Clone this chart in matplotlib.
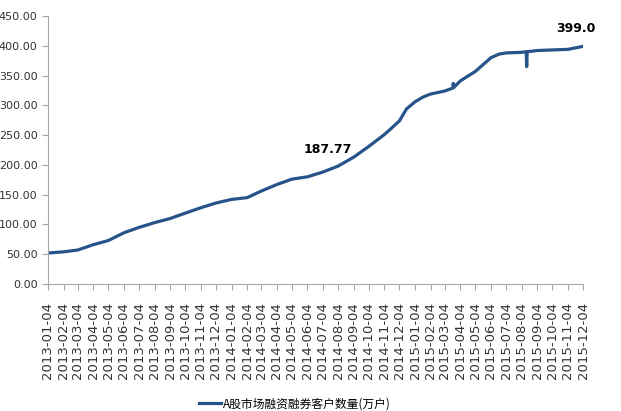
import pandas as pd
import matplotlib.pyplot as plt

plt.rcParams['font.family'] = ['DejaVu Sans', 'Noto Sans CJK SC']

# Month-start readings (万户)
dates = ['2013-01-04', '2013-02-04', '2013-03-04', '2013-04-04', '2013-05-04', '2013-06-04',
         '2013-07-04', '2013-08-04', '2013-09-04', '2013-10-04', '2013-11-04', '2013-12-04',
         '2014-01-04', '2014-02-04', '2014-03-04', '2014-04-04', '2014-05-04', '2014-06-04',
         '2014-07-04', '2014-08-04', '2014-09-04', '2014-10-04', '2014-11-04', '2014-11-20',
         '2014-12-04', '2014-12-18', '2015-01-04', '2015-01-20', '2015-02-04', '2015-03-04',
         '2015-03-20', '2015-03-21', '2015-03-22', '2015-04-04', '2015-05-04', '2015-06-04',
         '2015-06-20', '2015-07-04', '2015-08-04', '2015-08-13', '2015-08-14', '2015-08-15',
         '2015-09-04', '2015-10-04', '2015-11-04', '2015-12-04']
values = [52, 54, 57, 66, 73, 86,
          95, 103, 110, 119, 128, 136,
          142, 145, 156, 167, 176, 180,
          187.77, 198, 213, 231, 251, 263,
          274, 294, 306, 314, 319, 324,
          329, 337, 330, 341, 357, 380,
          386, 388, 389, 390, 365, 390,
          392, 393, 394, 399.0]

tick_dates = pd.date_range('2013-01-01', '2015-12-01', freq='MS') + pd.Timedelta(days=3)
series_name = 'A股市场融资融券客户数量(万户)'

df = pd.DataFrame({'date': pd.to_datetime(dates), 'value': values})

fig = plt.figure(figsize=(6.21, 4.11), dpi=100)
ax = fig.add_axes([48 / 621, 1 - 284 / 411, 535 / 621, 268 / 411])

ax.plot(df['date'], df['value'], color='#26538a', linewidth=2.3, label=series_name)

# Data labels
ax.annotate('187.77', (pd.Timestamp('2014-07-04'), 187.77), xytext=(4, 14),
            textcoords='offset points', ha='center', fontsize=9, fontweight='bold')
ax.annotate('399.0', (pd.Timestamp('2015-12-04'), 399.0), xytext=(-5, 10),
            textcoords='offset points', ha='center', fontsize=9, fontweight='bold')

ax.set_ylim(0, 450)
ax.set_yticks(range(0, 451, 50))
ax.set_yticklabels(['%.2f' % v for v in range(0, 451, 50)], fontsize=8)
ax.set_xlim(tick_dates[0], tick_dates[-1])
ax.set_xticks(tick_dates)
ax.set_xticklabels([d.strftime('%Y-%m-%d') for d in tick_dates], rotation=90, fontsize=9.5)

for side in ['top', 'right']:
    ax.spines[side].set_visible(False)
for side in ['left', 'bottom']:
    ax.spines[side].set_color('#a6a6a6')
ax.tick_params(axis='both', colors='#a6a6a6', length=4, labelcolor='#333333')
ax.tick_params(axis='x', pad=9)

fig.legend(loc='center', bbox_to_anchor=(295 / 621, 1 - 404 / 411), frameon=False,
           handlelength=1.8, handletextpad=0.2,
           prop={'family': ['Noto Sans CJK SC', 'DejaVu Sans'], 'size': 8.5})

fig.savefig('out.png', dpi=100)
